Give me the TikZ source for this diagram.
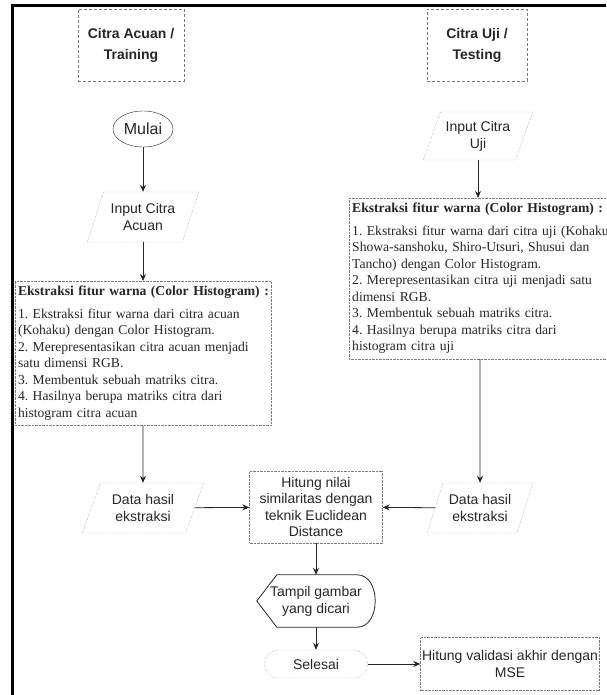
\documentclass[tikz,border=0pt]{standalone}
\usepackage{fontspec}
\setmainfont{Liberation Serif}
\setsansfont{Liberation Sans}
\usepackage{xcolor}
\usetikzlibrary{arrows.meta,positioning,calc,shapes.geometric}
\frenchspacing

\definecolor{ink}{HTML}{262626}
\definecolor{rim}{HTML}{7A7A7A}

\begin{document}
\begin{tikzpicture}[x=1pt, y=-1pt,
    lane/.style={draw=rim, densely dashed, minimum height=72pt, font=\sffamily\bfseries\fontsize{14}{21}\selectfont, align=center, text=ink},
    io/.style={trapezium, trapezium left angle=64, trapezium right angle=116, trapezium stretches=true, draw=rim, densely dotted, minimum height=50pt, inner sep=0pt, font=\sffamily\fontsize{14}{17}\selectfont, align=center, text=ink},
    proc/.style={draw=rim, densely dotted, inner sep=0pt, font=\sffamily\fontsize{14}{16.5}\selectfont, align=center, text=ink},
    note/.style={draw=rim, densely dotted, inner xsep=3pt, inner ysep=5pt, align=left, font=\fontsize{13.6}{16.5}\selectfont, text=ink},
    arr/.style={-{Stealth[length=7pt,width=6pt]}, thick, draw=ink}
]
\useasboundingbox (0,0) rectangle (606,695);
\clip (0,0) rectangle (606,695);
% Frame
\draw[line width=3pt] (12,695) -- (12,6) -- (606,6);

% Lanes
\node[lane, minimum width=106pt] (lacuan) at (131,45) {Citra Acuan /\\Training};
\node[lane, minimum width=100pt] (luji) at (477,45) {Citra Uji /\\Testing};

% Training side
\node[ellipse, draw=ink, minimum width=60pt, minimum height=36pt, inner sep=0pt, font=\sffamily\fontsize{16}{18}\selectfont, text=ink] (mulai) at (143,129) {Mulai};
\node[io, minimum width=112pt] (inacuan) at (143,217) {Input Citra\\Acuan};
\node[note, text width=250pt, anchor=north] (ekacuan) at (143,281) {\mbox{\textbf{Ekstraksi fitur warna (Color Histogram) :}}\\[6pt]
1. Ekstraksi fitur warna dari citra acuan\\
(Kohaku) dengan Color Histogram.\\
2. Merepresentasikan citra acuan menjadi\\
satu dimensi RGB.\\
3. Membentuk sebuah matriks citra.\\
4. Hasilnya berupa matriks citra dari\\
histogram citra acuan};
\node[io, minimum width=122pt] (dataacuan) at (143,508) {Data hasil\\ekstraksi};

% Testing side
\node[io, minimum width=110pt, minimum height=48pt] (inuji) at (478,136) {Input Citra\\Uji};
\node[note, text width=270pt, anchor=north west] (ekuji) at (349,198) {\textbf{Ekstraksi fitur warna (Color Histogram) :}\\[6pt]
1. Ekstraksi fitur warna dari citra uji (Kohaku\\
Showa-sanshoku, Shiro-Utsuri, Shusui dan\\
Tancho) dengan Color Histogram.\\
2. Merepresentasikan citra uji menjadi satu\\
dimensi RGB.\\
3. Membentuk sebuah matriks citra.\\
4. Hasilnya berupa matriks citra dari\\
histogram citra uji};
\node[io, minimum width=106pt] (datauji) at (480,508) {Data hasil\\ekstraksi};

% Matching and output
\node[proc, minimum width=133pt, minimum height=72pt] (hitung) at (316,507) {Hitung nilai\\similaritas dengan\\teknik Euclidean\\Distance};
\node[minimum width=118pt, minimum height=52pt, inner sep=0pt, font=\sffamily\fontsize{14}{17}\selectfont, align=center, text=ink] (tampil) at (316,601) {Tampil gambar\\yang dicari};
\draw[ink, thick] (tampil.west) -- ($(tampil.north west)+(20,0)$) -- ($(tampil.north east)+(-18,0)$)
    .. controls ($(tampil.north east)+(6,0)$) and ($(tampil.south east)+(6,0)$) .. ($(tampil.south east)+(-18,0)$)
    -- ($(tampil.south west)+(20,0)$) -- cycle;
\node[proc, rounded corners=14pt, minimum width=103pt, minimum height=28pt] (selesai) at (316,664) {Selesai};
\node[proc, minimum width=179pt, minimum height=53pt] (validasi) at (510,664) {Hitung validasi akhir dengan\\MSE};

% Flow
\draw[arr] (mulai) -- (inacuan);
\draw[arr] (inacuan) -- (ekacuan);
\draw[arr] (ekacuan) -- (dataacuan);
\draw[arr] (inuji) -- (inuji |- ekuji.north);
\draw[arr] (datauji |- ekuji.south) -- (datauji);
\draw[arr] (dataacuan) -- (hitung);
\draw[arr] (datauji) -- (hitung);
\draw[arr] (hitung) -- (tampil);
\draw[arr] (tampil) -- (selesai);
\draw[arr] (selesai) -- (validasi);
\end{tikzpicture}
\end{document}
